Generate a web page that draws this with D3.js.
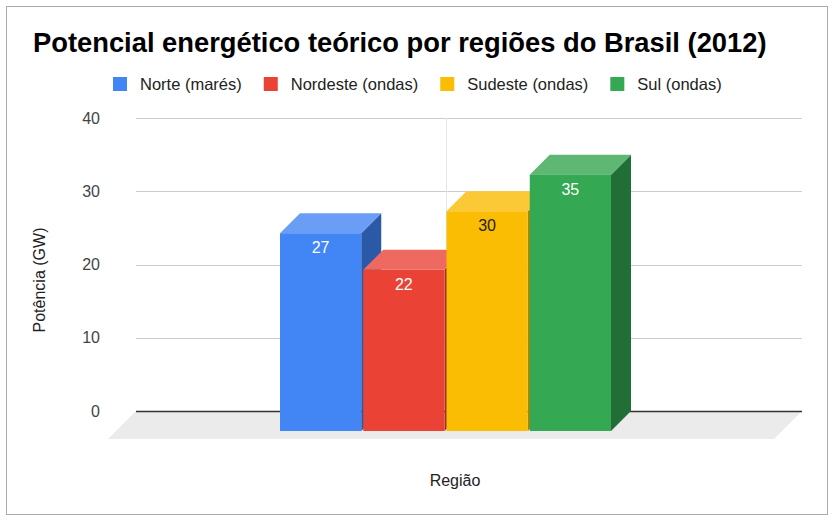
<!DOCTYPE html>
<html><head><meta charset="utf-8">
<script src="https://cdn.jsdelivr.net/npm/d3@7"></script>
<style>body{margin:0;background:#fff}svg{display:block}</style>
</head><body>
<script>
const title = "Potencial energético teórico por regiões do Brasil (2012)";
const categories = ["Região"];
const series = ["Norte (marés)", "Nordeste (ondas)", "Sudeste (ondas)", "Sul (ondas)"];
const values = [27, 22, 30, 35];
const yTicks = [0, 10, 20, 30, 40];
const yTitle = "Potência (GW)";
const xTitle = "Região";

const colors = ["#4285f4", "#ea4335", "#fbbc04", "#34a853"];
const topColors = ["#699df6", "#ee6a60", "#fbc935", "#5eb873"];
const sideColors = ["#2c58a8", "#a3302a", "#b08503", "#216f37"];
const labelColors = ["#fff", "#fff", "#222", "#fff"];

const W = 838, H = 521;
const FONT = "'Liberation Sans', Arial, sans-serif";
const depth = 20;
const floorDepth = 28;
const wallL = 136, wallR = 802;

const svg = d3.select("body").append("svg").attr("width", W).attr("height", H)
  .style("font-family", FONT);

svg.append("rect").attr("x", 6.5).attr("y", 6.5).attr("width", 821).attr("height", 508)
  .attr("fill", "#fff").attr("stroke", "#aaa").attr("stroke-width", 1);

// title
const t = svg.append("text").attr("x", 33).attr("y", 52).attr("font-weight", "bold")
  .attr("font-size", 24).attr("fill", "#000").text(title);
const tl = t.node().getComputedTextLength();
t.attr("font-size", 24 * 734 / tl);

// legend
let lx = 113;
series.forEach((s, i) => {
  svg.append("rect").attr("x", lx).attr("y", 77).attr("width", 14).attr("height", 14)
    .attr("fill", colors[i]);
  const tx = svg.append("text").attr("x", lx + 27).attr("y", 90).attr("font-size", 16.5)
    .attr("fill", "#222").text(s);
  lx += 27 + tx.node().getComputedTextLength() + 22;
});

const y = d3.scaleLinear().domain([0, 40]).range([411, 118]);
const x0 = d3.scaleBand().domain(categories).range([129, wallR]);
const groupW = 331;
const x1 = d3.scaleBand().domain(series).range([0, groupW]).paddingInner(2 / 83);

// gridlines
svg.append("g").selectAll("line").data(yTicks.filter(d => d !== 0)).join("line")
  .attr("x1", wallL).attr("x2", wallR).attr("y1", d => Math.round(y(d)) + 0.5).attr("y2", d => Math.round(y(d)) + 0.5)
  .attr("stroke", "#cccccc").attr("stroke-width", 1);
svg.append("line").attr("x1", 446.5).attr("x2", 446.5).attr("y1", y(40)).attr("y2", y(0))
  .attr("stroke", "#e4e4e4").attr("stroke-width", 1);

// tick labels
svg.append("g").selectAll("text").data(yTicks).join("text")
  .attr("x", 100).attr("y", d => y(d)).attr("dy", "0.35em").attr("text-anchor", "end")
  .attr("font-size", 16).attr("fill", "#444").text(d => d);

// floor
svg.append("polygon")
  .attr("points", [[wallL, y(0)], [wallR, y(0)], [wallR - floorDepth, y(0) + floorDepth], [wallL - floorDepth, y(0) + floorDepth]].map(p => p.join(",")).join(" "))
  .attr("fill", "#ebebeb");
svg.append("line").attr("x1", wallL).attr("x2", wallR).attr("y1", y(0) + 0.5).attr("y2", y(0) + 0.5)
  .attr("stroke", "#333").attr("stroke-width", 1.5);

// bars
const cat = categories[0];
const gx = x0(cat) + x0.bandwidth() / 2 - groupW / 2;
const bars = svg.append("g");
series.forEach((s, i) => {
  const v = values[i];
  const bxL = gx + x1(s), bxR = bxL + x1.bandwidth();
  const byT = y(v), byB = y(0);
  const fxL = bxL - depth, fxR = bxR - depth, fyT = byT + depth, fyB = byB + depth;
  const g = bars.append("g");
  g.append("polygon").attr("points", [[fxR, fyT], [bxR, byT], [bxR, byB], [fxR, fyB]].map(p => p.join(",")).join(" "))
    .attr("fill", sideColors[i]);
  g.append("polygon").attr("points", [[fxL, fyT], [bxL, byT], [bxR, byT], [fxR, fyT]].map(p => p.join(",")).join(" "))
    .attr("fill", topColors[i]);
  g.append("rect").attr("x", fxL).attr("y", fyT).attr("width", fxR - fxL).attr("height", fyB - fyT)
    .attr("fill", colors[i]);
  g.append("text").attr("x", (fxL + fxR) / 2).attr("y", fyT + 20).attr("text-anchor", "middle")
    .attr("font-size", 16).attr("fill", labelColors[i]).text(v);
});

// axis titles
svg.append("text").attr("x", 455).attr("y", 486).attr("text-anchor", "middle")
  .attr("font-size", 16).attr("fill", "#222").text(xTitle);
svg.append("text").attr("transform", "translate(45,280) rotate(-90)").attr("text-anchor", "middle")
  .attr("font-size", 16).attr("fill", "#222").text(yTitle);
</script>
</body></html>
